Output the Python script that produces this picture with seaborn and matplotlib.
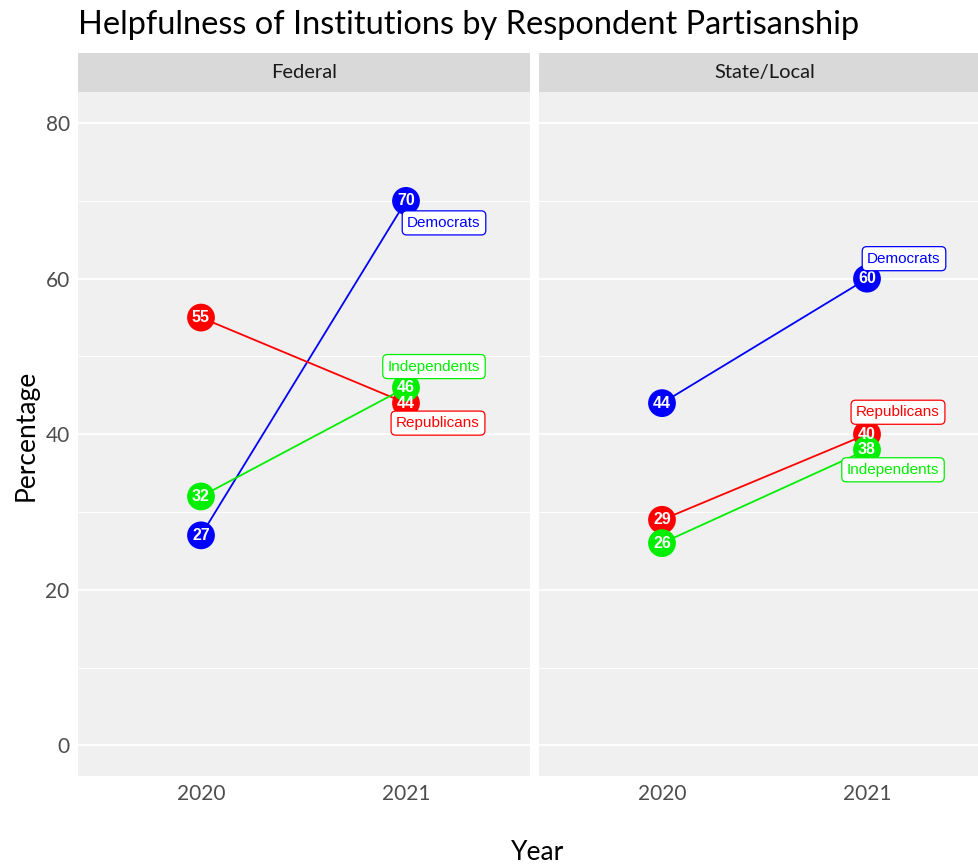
import matplotlib
matplotlib.use("Agg")
import matplotlib.pyplot as plt
import seaborn as sns
import pandas as pd
from matplotlib.ticker import MultipleLocator

# ---- data ----
facets = ["Federal", "State/Local"]
years = ["2020", "2021"]
groups = ["Democrats", "Republicans", "Independents"]
federal_dem = [27, 70]
federal_rep = [55, 44]
federal_ind = [32, 46]
state_dem = [44, 60]
state_rep = [29, 40]
state_ind = [26, 38]

palette = {"Democrats": "#0000FF", "Republicans": "#FF0000", "Independents": "#00EE00"}

rows = []
for facet, vals in zip(facets, [(federal_dem, federal_rep, federal_ind),
                                (state_dem, state_rep, state_ind)]):
    for g, series in zip(groups, vals):
        for i, (yr, v) in enumerate(zip(years, series)):
            rows.append({"Facet": facet, "Group": g, "Year": yr, "xi": i, "Percentage": v})
df = pd.DataFrame(rows)

# label box offsets (pixels from the 2021 point)
label_offsets = {
    "Federal": {"Democrats": (38, -22), "Independents": (28, 21), "Republicans": (32, -20)},
    "State/Local": {"Democrats": (37, 20), "Republicans": (31, 22), "Independents": (26, -20)},
}

sns.set_theme(style="white")
FONT = ["Lato", "DejaVu Sans"]
plt.rcParams["font.family"] = FONT

W, H = 979, 867
fig = plt.figure(figsize=(W / 100, H / 100), dpi=100)

panel_top, panel_bot = 92, 775.7
strip_top = 53
unit = 205.0
panels = [(78, 530), (539, 979)]

axes = []
for k, (facet, (x0, x1)) in enumerate(zip(facets, panels)):
    ax = fig.add_axes([x0 / W, (H - panel_bot) / H, (x1 - x0) / W, (panel_bot - panel_top) / H])
    ax.set_facecolor("#F0F0F0")
    for s in ax.spines.values():
        s.set_visible(False)
    sub = df[df["Facet"] == facet]
    sns.lineplot(data=sub, x="xi", y="Percentage", hue="Group", palette=palette,
                 ax=ax, legend=False, linewidth=1.3, zorder=3)
    sns.scatterplot(data=sub, x="xi", y="Percentage", hue="Group", palette=palette,
                    ax=ax, legend=False, s=400, linewidth=0, zorder=4)
    for _, r in sub.iterrows():
        ax.text(r["xi"], r["Percentage"], f"{r['Percentage']}", color="white",
                fontsize=11.5, fontweight="bold", ha="center", va="center",
                family=["Liberation Sans", "DejaVu Sans"], zorder=5)
        if r["xi"] == 1:
            dx, dy = label_offsets[facet][r["Group"]]
            ax.annotate(r["Group"], (r["xi"], r["Percentage"]),
                        xytext=(dx * 0.72, dy * 0.72), textcoords="offset points",
                        ha="center", va="center", fontsize=11,
                        family=["Liberation Sans", "DejaVu Sans"],
                        color=palette[r["Group"]], zorder=6,
                        bbox=dict(boxstyle="round,pad=0.33,rounding_size=0.3",
                                  fc="white", ec=palette[r["Group"]], lw=0.9))
    ax.set_xlim(-0.6, -0.6 + (x1 - x0) / unit)
    ax.set_ylim(-3.9, 84)
    ax.yaxis.set_major_locator(MultipleLocator(20))
    ax.yaxis.set_minor_locator(MultipleLocator(10))
    ax.grid(False)
    ax.grid(which="major", axis="y", color="white", linewidth=1.3)
    ax.grid(which="minor", axis="y", color="white", linewidth=0.7)
    ax.set_axisbelow(True)
    ax.set_xticks([0, 1])
    ax.set_xticklabels(years)
    ax.tick_params(axis="both", which="both", length=0, labelsize=15, colors="#4D4D4D", pad=6)
    ax.set_xlabel("")
    ax.set_ylabel("")
    if k == 1:
        ax.set_yticklabels([])
    # strip
    sax = fig.add_axes([x0 / W, (H - panel_top) / H, (x1 - x0) / W, (panel_top - strip_top) / H])
    sax.set_facecolor("#D9D9D9")
    sax.set_xticks([]); sax.set_yticks([])
    for s in sax.spines.values():
        s.set_visible(False)
    sax.text((0.5 * 452) / (x1 - x0), 0.5, facet, ha="center", va="center",
             fontsize=14.5, color="#1A1A1A", transform=sax.transAxes)
    axes.append(ax)

fig.text(78 / W, 1 - 25 / H, "Helpfulness of Institutions by Respondent Partisanship",
         fontsize=23.4, ha="left", va="center", color="black")
fig.text(26 / W, 1 - 435 / H, "Percentage", rotation=90, fontsize=19,
         ha="center", va="center", color="black")
fig.text(538 / W, 1 - 852 / H, "Year", fontsize=19,
         ha="center", va="center", color="black")

fig.savefig("out.png", dpi=100, facecolor="white")
